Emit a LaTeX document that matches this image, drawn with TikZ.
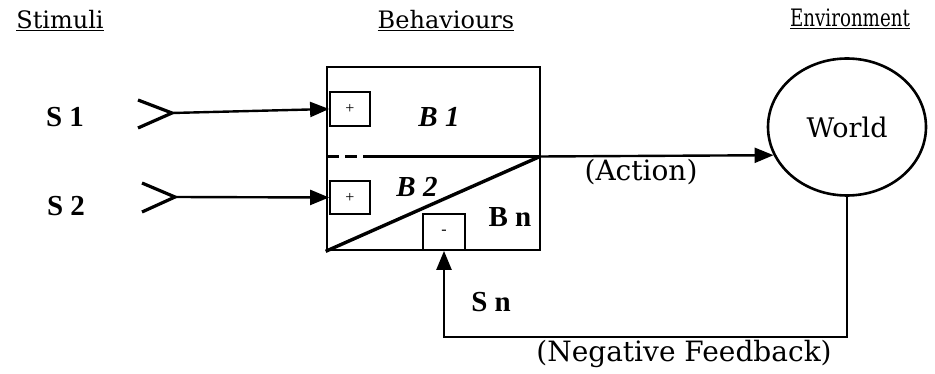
\documentclass[tikz,border=0pt]{standalone}
\usepackage{fontspec}
\setmainfont{DejaVu Serif}
\newfontfamily\tms{Liberation Serif}
\usetikzlibrary{arrows.meta,shapes.geometric}
\begin{document}
\begin{tikzpicture}[x=1pt,y=-1pt,
  line/.style={line width=2.4pt},
  tip/.style={-{Triangle[length=19pt,width=15pt]}},
  hdr/.style={font=\fontsize{24}{26}\selectfont, inner sep=0pt},
  lbl/.style={font=\fontsize{28}{30}\selectfont, inner sep=0pt},
  sym/.style={font=\tms\bfseries\fontsize{29}{31}\selectfont, inner sep=0pt},
  symi/.style={font=\tms\bfseries\itshape\fontsize{29}{31}\selectfont, inner sep=0pt},
  small/.style={draw, line width=1.8pt, inner sep=0pt, font=\tms\fontsize{16}{16}\selectfont}]
\useasboundingbox (0,0) rectangle (935,374);
% headings
\node[hdr] (hs) at (60,21) {\underline{Stimuli}};
\node[hdr] (hb) at (446,21) {\underline{Behaviours}};
\node[hdr] (he) at (850,19) {\scalebox{0.76}[1]{\underline{Environment}}};
% behaviour box
\node[draw, line width=2.6pt, minimum width=213pt, minimum height=183pt, inner sep=0pt] (box) at (433.5,158.5) {};
\coordinate (dl) at (327,156.5);
\coordinate (dm) at (367,156.5);
\coordinate (dr) at (540,156.5);
\draw[line, dash pattern=on 12pt off 6pt] (dl) -- (dm);
\draw[line] (dm) -- (dr);
\draw[line width=3.4pt] (box.south west) -- (dr);
\node[small, minimum width=40pt, minimum height=34pt] (p1) at (350,109) {+};
\node[small, minimum width=40pt, minimum height=33pt] (p2) at (350,197.5) {+};
\node[small, minimum width=42pt, minimum height=36pt] (m) at (444,232) {-};
\node[symi] (b1) at (439,117) {B 1};
\node[symi] (b2) at (417,187) {B 2};
\node[sym] (bn) at (510,217) {B n};
% stimuli
\node[sym] (s1) at (65,117) {S 1};
\node[sym] (s2) at (66,206) {S 2};
\coordinate (f1) at (172,113);
\coordinate (f1a) at (138,100);
\coordinate (f1b) at (138,128);
\coordinate (f2) at (175,197);
\coordinate (f2a) at (142,183);
\coordinate (f2b) at (142,212);
\draw[line width=3.2pt] (f1a) -- (f1) -- (f1b);
\draw[line width=3.2pt] (f2a) -- (f2) -- (f2b);
\draw[line, tip] (f1) -- (p1.west);
\draw[line, tip] (f2) -- (p2.west);
% world
\node[draw, line width=2.6pt, ellipse, minimum width=158pt, minimum height=137pt, inner sep=0pt, font=\fontsize{27}{29}\selectfont] (world) at (847,127) {World};
\draw[line, tip] (dr) -- (world.201.9);
\node[lbl] (act) at (641,172) {(Action)};
% feedback
\coordinate (fbc) at (444,337);
\draw[line, tip] (world.south) |- (fbc) -- (m.south);
\node[sym] (sn) at (491,302) {S n};
\node[lbl] (nf) at (684,354) {(Negative Feedback)};
\end{tikzpicture}
\end{document}
